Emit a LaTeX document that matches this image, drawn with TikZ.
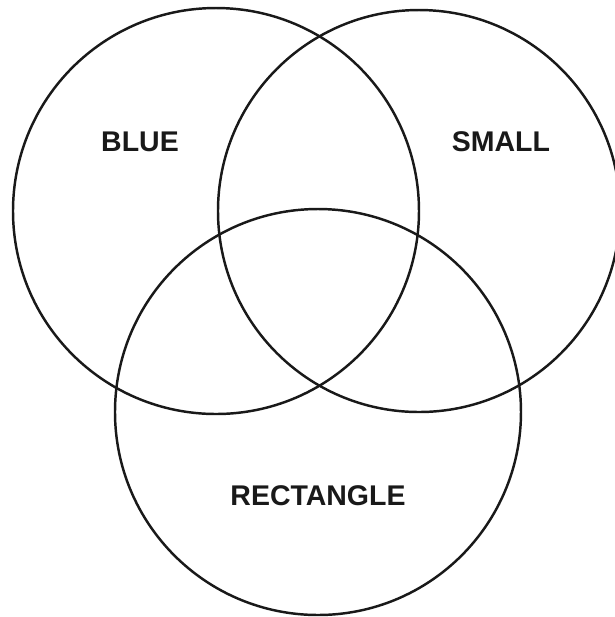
\documentclass[tikz,border=0pt]{standalone}
\usepackage{fontspec}
\setmainfont{Liberation Sans}
\usetikzlibrary{positioning}

\tikzset{
  vennline/.style={draw=black!90,line width=0.7pt},
  setlabel/.style={font=\fontsize{8.1pt}{9pt}\selectfont\bfseries,text=black!90,anchor=center}
}

\begin{document}
\begin{tikzpicture}[x=0.01cm,y=-0.01cm]
\useasboundingbox (0,0) rectangle (615,617);
\begin{scope}
\clip (0,0) rectangle (615,617);
\draw[vennline] (216,211) circle (203);
\draw[vennline] (419,211) circle (201);
\draw[vennline] (318,412) circle (203);
\end{scope}
\node[setlabel] (blue) at (140,142) {BLUE};
\node[setlabel] (small) at (501,142) {SMALL};
\node[setlabel] (rect) at (318,496) {RECTANGLE};
\end{tikzpicture}
\end{document}
